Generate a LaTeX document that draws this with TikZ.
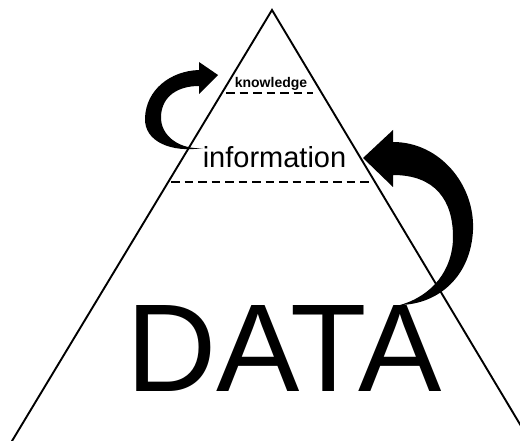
\documentclass[tikz,border=0pt]{standalone}
\usepackage{fontspec}
\setmainfont{Liberation Sans}
\begin{document}
\begin{tikzpicture}[x=1pt,y=-1pt,
  edge/.style={line width=1.9pt,line cap=round},
  dashline/.style={line width=2.5pt,dash pattern=on 8.5pt off 5pt},
  bigarrow/.style={fill=black,draw=none},
  lbl/.style={inner sep=0pt,anchor=base}]
\useasboundingbox (0,0) rectangle (520,441);
\clip (0,0) rectangle (520,441);
% pyramid
\coordinate (apex) at (272,10);
\coordinate (bl) at (12,441);
\coordinate (br) at (530,441);
\draw[edge] (bl) -- (apex) -- (br);
% dashed layer lines
\coordinate (k1) at (226,93);
\coordinate (k2) at (313,93);
\draw[dashline] (k1) -- (k2);
\coordinate (i1) at (171,182);
\coordinate (i2) at (375,182);
\draw[dashline] (i1) -- (i2);
% texts
\node[lbl,font=\bfseries\fontsize{14}{14}\selectfont] (know) at (271,88) {knowledge};
\node[lbl,font=\fontsize{29}{29}\selectfont] (info) at (274.5,168) {information};
\node[lbl,font=\fontsize{125}{125}\selectfont] (data) at (284,391) {DATA};
% left curved arrow
\fill[bigarrow] (218,75) -- (199,62) -- (199,70)
  .. controls (170,71) and (146,90) .. (145,118)
  .. controls (144,142) and (172,153) .. (203,148)
  .. controls (180,150) and (160,136) .. (161,116)
  .. controls (162,96) and (178,86) .. (199,86)
  -- (199,94) -- cycle;
% right curved arrow
\fill[bigarrow] (363,158) -- (393,130) -- (393,142)
  .. controls (440,142) and (475,185) .. (473,230)
  .. controls (471,275) and (440,304) .. (400,305)
  .. controls (432,296) and (453,270) .. (453,237)
  .. controls (453,200) and (435,175) .. (393,175)
  -- (393,187) -- cycle;
\end{tikzpicture}
\end{document}
